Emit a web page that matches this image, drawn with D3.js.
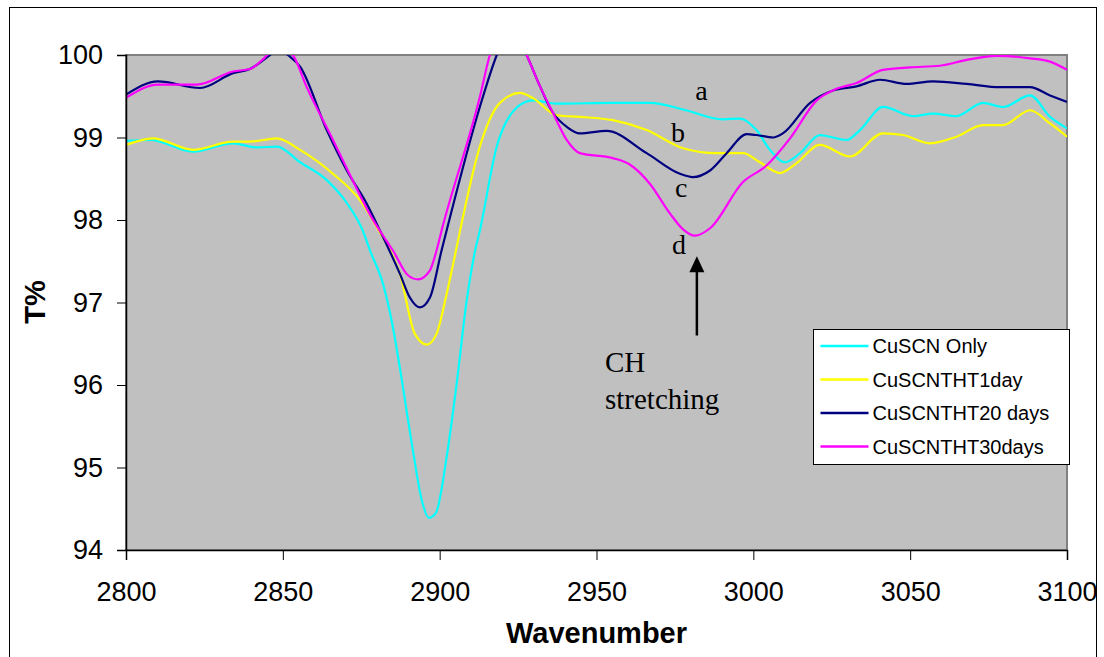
<!DOCTYPE html>
<html>
<head>
<meta charset="utf-8">
<script src="https://cdn.jsdelivr.net/npm/d3@7"></script>
<style>
  body { margin: 0; background: #fff; }
  svg text { font-family: "Liberation Sans", Arial, sans-serif; }
</style>
</head>
<body>
<script>
// values (wavenumber, T%)
const cuscnWn = [2800, 2807.7, 2821.4, 2834.1, 2841.8, 2848.1, 2855.5, 2864.1, 2870.5, 2875.5, 2877.8, 2881.9, 2885.1, 2887.3, 2891.5, 2894.3, 2896.6, 2898.8, 2902.2, 2905.4, 2908.6, 2911.3, 2912.8, 2918.2, 2924.5, 2929.7, 2937.3, 2955.2, 2967, 2977.6, 2990.3, 2995.8, 3001, 3005.3, 3010.1, 3014.9, 3021.2, 3029.7, 3034, 3041.3, 3050.9, 3057.3, 3064.8, 3073.2, 3079.6, 3088.2, 3094.6, 3100]
const cuscnT  = [98.96, 98.97, 98.83, 98.93, 98.88, 98.89, 98.70, 98.48, 98.2, 97.87, 97.63, 97.23, 96.7, 96.21, 95.2, 94.6, 94.39, 94.45, 95.12, 96.01, 97.02, 97.63, 97.87, 98.89, 99.36, 99.45, 99.41, 99.42, 99.42, 99.34, 99.22, 99.23, 99.09, 98.85, 98.7, 98.81, 99.03, 98.97, 99.09, 99.37, 99.26, 99.29, 99.26, 99.42, 99.37, 99.51, 99.25, 99.11]

const day1Wn = [2800, 2808.6, 2821.4, 2834.1, 2839.5, 2848.1, 2855.5, 2866, 2874.6, 2880, 2884.2, 2887.3, 2892.1, 2895.9, 2899, 2902.2, 2905.2, 2906.5, 2912.8, 2919.2, 2925.6, 2929.7, 2937.3, 2944.7, 2955.2, 2966, 2977.6, 2988.3, 2996.7, 3002.1, 3008.5, 3013.8, 3021.2, 3030.8, 3041.3, 3047.7, 3056.3, 3064.8, 3073.2, 3079.6, 3088.2, 3094.6, 3100]
const day1T  = [98.91, 98.99, 98.85, 98.95, 98.95, 98.99, 98.85, 98.56, 98.24, 97.91, 97.63, 97.35, 96.62, 96.49, 96.62, 97.1, 97.63, 97.87, 98.89, 99.42, 99.54, 99.48, 99.27, 99.25, 99.21, 99.09, 98.87, 98.81, 98.81, 98.7, 98.57, 98.69, 98.91, 98.77, 99.05, 99.03, 98.93, 99.01, 99.15, 99.15, 99.33, 99.17, 99.01]

const day20Wn = [2800, 2810.2, 2823.6, 2834.1, 2839.5, 2845.9, 2849, 2851.6, 2855.5, 2864, 2870.4, 2876.7, 2881, 2887.3, 2890.5, 2893.7, 2896.9, 2900.6, 2902.2, 2912.8, 2918.2, 2922.5, 2927.7, 2932, 2936.1, 2940.5, 2944.7, 2953.2, 2966, 2976.6, 2980.7, 2986.2, 2991.5, 2997.9, 3001, 3006.3, 3009.4, 3018.1, 3025.4, 3032.9, 3040.4, 3048.9, 3057.3, 3068, 3078.6, 3088.2, 3094.6, 3100]
const day20T  = [99.52, 99.68, 99.6, 99.78, 99.83, 100.0, 100.08, 100.0, 99.86, 99.09, 98.6, 98.2, 97.87, 97.35, 97.06, 96.94, 97.06, 97.63, 97.87, 99.37, 100.0, 100.35, 100.0, 99.62, 99.3, 99.13, 99.05, 99.08, 98.81, 98.56, 98.52, 98.6, 98.81, 99.04, 99.03, 99.0, 99.05, 99.42, 99.57, 99.62, 99.70, 99.65, 99.68, 99.65, 99.61, 99.61, 99.51, 99.43]

const day30Wn = [2800, 2810.2, 2822.6, 2834.1, 2839.5, 2843.7, 2845, 2849, 2853.2, 2857.5, 2866, 2872, 2878, 2883, 2885.1, 2889.9, 2893.1, 2896.9, 2899, 2900.6, 2912.8, 2916, 2922, 2927.7, 2932, 2936.1, 2940.5, 2944.7, 2955.2, 2960.7, 2967, 2973.4, 2977.5, 2981.4, 2986.2, 2996.7, 3004.2, 3011.7, 3020.2, 3026.5, 3032.9, 3041.3, 3049.9, 3059.5, 3068, 3077.6, 3088.2, 3094.6, 3100]
const day30T  = [99.48, 99.64, 99.64, 99.8, 99.83, 99.95, 100.0, 100.1, 100.0, 99.62, 98.97, 98.5, 98.05, 97.75, 97.63, 97.33, 97.28, 97.39, 97.63, 97.87, 99.49, 100.0, 100.4, 100.0, 99.62, 99.3, 98.97, 98.81, 98.75, 98.67, 98.44, 98.08, 97.89, 97.81, 97.9, 98.46, 98.66, 98.99, 99.45, 99.59, 99.66, 99.82, 99.85, 99.87, 99.94, 99.99, 99.96, 99.92, 99.82]

const seriesNames = ["CuSCN Only", "CuSCNTHT1day", "CuSCNTHT20 days", "CuSCNTHT30days"]
const seriesColors = ["#00ffff", "#ffff00", "#000080", "#ff00ff"]
const xTicks = [2800, 2850, 2900, 2950, 3000, 3050, 3100]
const yTicks = [94, 95, 96, 97, 98, 99, 100]

// curve labels and annotation (data coordinates)
const curveLabels = ["a", "b", "c", "d"]
const curveLabelWn = [2983.5, 2976, 2977, 2976.3]
const curveLabelT = [99.45, 98.95, 98.28, 97.59]

const W = 1104, H = 657
const plotL = 126, plotR = 1067, plotT = 55, plotB = 550

const svg = d3.select("body").append("svg")
    .attr("width", W)
    .attr("height", H)

// outer chart frame
svg.append("rect")
    .attr("x", 9.5).attr("y", 7.5)
    .attr("width", 1087).attr("height", 660)
    .attr("fill", "#fff")
    .attr("stroke", "#000")
    .attr("stroke-width", 1)

const x = d3.scaleLinear().domain([2800, 3100]).range([plotL, plotR])
const y = d3.scaleLinear().domain([94, 100]).range([plotB, plotT])

// plot area
svg.append("rect")
    .attr("x", plotL).attr("y", plotT)
    .attr("width", plotR - plotL).attr("height", plotB - plotT)
    .attr("fill", "#c0c0c0")
    .attr("stroke", "#808080")
    .attr("stroke-width", 2)

svg.append("clipPath").attr("id", "plotclip")
  .append("rect")
    .attr("x", plotL).attr("y", plotT)
    .attr("width", plotR - plotL).attr("height", plotB - plotT)

const allSeries = [
    d3.zip(cuscnWn, cuscnT),
    d3.zip(day1Wn, day1T),
    d3.zip(day20Wn, day20T),
    d3.zip(day30Wn, day30T)
]

const line = d3.line()
    .x(d => x(d[0]))
    .y(d => y(d[1]))
    .curve(d3.curveMonotoneX)

svg.append("g")
    .attr("clip-path", "url(#plotclip)")
  .selectAll("path")
  .data(allSeries)
  .enter()
  .append("path")
    .attr("d", line)
    .attr("fill", "none")
    .attr("stroke", (d, i) => seriesColors[i])
    .attr("stroke-width", 2.2)

// axes
const yAxis = svg.append("g")
    .attr("transform", "translate(" + plotL + ",0)")
    .call(d3.axisLeft(y).tickValues(yTicks).tickSize(9).tickPadding(14).tickFormat(d3.format("d")))
yAxis.select(".domain").attr("stroke", "#000").attr("stroke-width", 1.5)
yAxis.selectAll("text").attr("font-size", 27).attr("fill", "#000")
    .attr("font-family", "Liberation Sans, Arial, sans-serif")

const xAxis = svg.append("g")
    .attr("transform", "translate(0," + plotB + ")")
    .call(d3.axisBottom(x).tickValues(xTicks).tickSize(10).tickPadding(22).tickFormat(d3.format("d")))
xAxis.select(".domain").attr("stroke", "#000").attr("stroke-width", 1.5)
xAxis.selectAll("text").attr("font-size", 27).attr("fill", "#000")
    .attr("font-family", "Liberation Sans, Arial, sans-serif")

// axis titles
svg.append("text")
    .attr("x", (plotL + plotR) / 2)
    .attr("y", 643)
    .attr("text-anchor", "middle")
    .attr("font-size", 29)
    .attr("font-weight", "bold")
    .text("Wavenumber")

svg.append("text")
    .attr("transform", "translate(45,302) rotate(-90)")
    .attr("text-anchor", "middle")
    .attr("font-size", 29)
    .attr("font-weight", "bold")
    .text("T%")

// curve letters
svg.selectAll("text.curvelab")
  .data(curveLabels)
  .enter()
  .append("text")
    .attr("class", "curvelab")
    .attr("x", (d, i) => x(curveLabelWn[i]))
    .attr("y", (d, i) => y(curveLabelT[i]))
    .attr("text-anchor", "middle")
    .style("font-family", "Liberation Serif, Times New Roman, serif")
    .attr("font-size", 28)
    .text(d => d)

// arrow for CH stretching
const arrowWn = 2982, arrowFrom = 96.6, arrowTip = 97.56
svg.append("line")
    .attr("x1", x(arrowWn)).attr("x2", x(arrowWn))
    .attr("y1", y(arrowFrom)).attr("y2", y(arrowTip) + 12)
    .attr("stroke", "#000")
    .attr("stroke-width", 2.5)
svg.append("path")
    .attr("d", "M" + x(arrowWn) + "," + y(arrowTip) +
               " L" + (x(arrowWn) - 7.5) + "," + (y(arrowTip) + 16) +
               " L" + (x(arrowWn) + 7.5) + "," + (y(arrowTip) + 16) + " Z")
    .attr("fill", "#000")

const note = svg.append("text")
    .style("font-family", "Liberation Serif, Times New Roman, serif")
    .attr("font-size", 29)
note.append("tspan").attr("x", x(2952.7)).attr("y", y(96.16)).text("CH")
note.append("tspan").attr("x", x(2952.7)).attr("y", y(95.71)).text("stretching")

// legend
const legend = svg.append("g").attr("transform", "translate(813.5,329.5)")
legend.append("rect")
    .attr("width", 256).attr("height", 135)
    .attr("fill", "#fff")
    .attr("stroke", "#000")
    .attr("stroke-width", 1)
const rows = legend.selectAll("g.row")
  .data(seriesNames)
  .enter()
  .append("g")
    .attr("class", "row")
    .attr("transform", (d, i) => "translate(0," + (16.5 + i * 33.5) + ")")
rows.append("line")
    .attr("x1", 7).attr("x2", 55)
    .attr("stroke", (d, i) => seriesColors[i])
    .attr("stroke-width", 2.5)
rows.append("text")
    .attr("x", 59)
    .attr("dy", "0.35em")
    .attr("font-size", 20)
    .text(d => d)
</script>
</body>
</html>
